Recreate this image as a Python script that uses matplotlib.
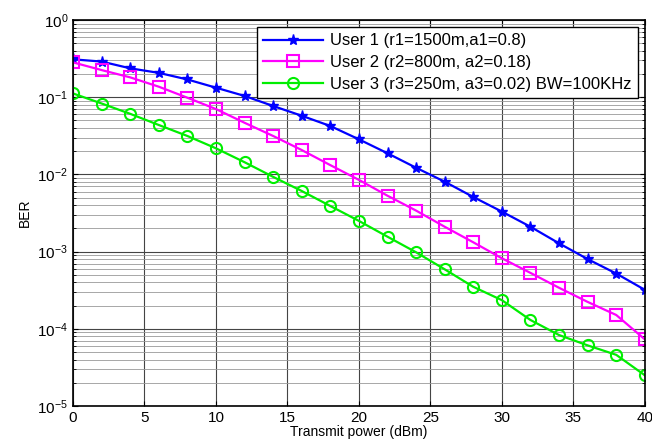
import numpy as np
import matplotlib.pyplot as plt
from matplotlib.ticker import LogLocator, NullFormatter

plt.rcParams['font.family'] = ['Liberation Sans', 'DejaVu Sans']

# =======================
# data
# =======================
power_dbm = list(range(0, 41, 2))

ber_user1 = [0.31, 0.29, 0.237, 0.207, 0.17, 0.133, 0.104, 0.077, 0.0576, 0.0424,
             0.0285, 0.0188, 0.0122, 0.00805, 0.0051, 0.0033, 0.0021, 0.00128,
             0.00080, 0.00052, 0.00032]
ber_user2 = [0.283, 0.225, 0.181, 0.137, 0.0986, 0.0703, 0.0467, 0.0315, 0.0207,
             0.0132, 0.0085, 0.0053, 0.0034, 0.0021, 0.00132, 0.00082, 0.00053,
             0.00034, 0.000223, 0.000151, 0.000073]
ber_user3 = [0.112, 0.083, 0.061, 0.0437, 0.0315, 0.0218, 0.0144, 0.0093, 0.0061,
             0.0039, 0.0025, 0.00156, 0.00098, 0.00059, 0.00035, 0.000235, 0.00013,
             0.000083, 0.000061, 0.000046, 0.000025]

labels = ['User 1 (r1=1500m,a1=0.8)',
          'User 2 (r2=800m, a2=0.18)',
          'User 3 (r3=250m, a3=0.02) BW=100KHz']

# =======================
# plot
# =======================
fig = plt.figure(figsize=(6.52, 4.46), dpi=100)
ax = fig.add_axes([0.112, 0.0897, 0.877, 0.8653])

ax.semilogy(power_dbm, ber_user1, color='blue', marker='*', markersize=8,
            linewidth=1.6, label=labels[0])
ax.semilogy(power_dbm, ber_user2, color='magenta', marker='s', markersize=8,
            markerfacecolor='none', markeredgewidth=1.5, linewidth=1.6, label=labels[1])
ax.semilogy(power_dbm, ber_user3, color='#00ee00', marker='o', markersize=8,
            markerfacecolor='none', markeredgewidth=1.5, linewidth=1.6, label=labels[2])

ax.set_xlim(0, 40)
ax.set_ylim(1e-5, 1)
ax.set_xticks(range(0, 41, 5))
ax.yaxis.set_major_locator(LogLocator(base=10, numticks=10))
ax.yaxis.set_minor_locator(LogLocator(base=10, subs=np.arange(2, 10), numticks=20))
ax.yaxis.set_minor_formatter(NullFormatter())

ax.grid(True, which='major', color='#444444', linewidth=0.8)
ax.grid(True, which='minor', axis='y', color='#999999', linewidth=0.6)

ax.tick_params(direction='in', top=True, right=True, labelsize=11)
ax.tick_params(which='minor', direction='in', right=True, left=True)
for s in ax.spines.values():
    s.set_linewidth(1.2)

ax.set_xlabel('Transmit power (dBm)', fontsize=10, labelpad=0)
ax.set_ylabel('BER', fontsize=10)

leg = ax.legend(loc='upper right', fontsize=12, fancybox=False, edgecolor='black',
                framealpha=1, borderaxespad=0.4, handlelength=3.6, handletextpad=0.4,
                labelspacing=0.4, borderpad=0.4)
leg.get_frame().set_linewidth(1.0)

fig.savefig('out.png', dpi=100)
plt.close()
